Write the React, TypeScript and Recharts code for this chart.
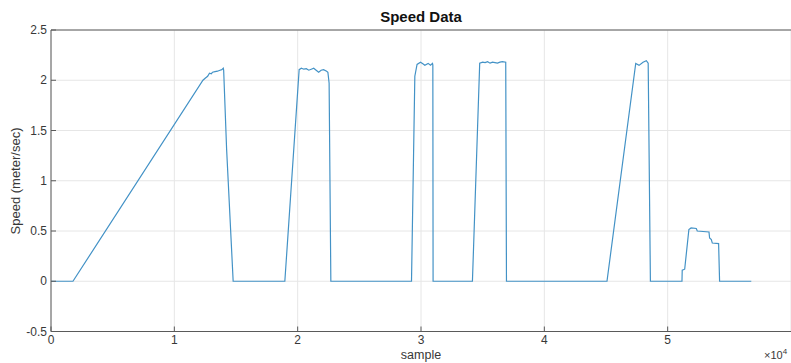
import React from "react";
import {
  LineChart,
  Line,
  XAxis,
  YAxis,
  CartesianGrid,
  ReferenceLine,
} from "recharts";

// sample index, in units of 10^4
const sampleX: number[] = [
  0, 0.178, 1.232, 1.25, 1.27, 1.285, 1.3, 1.31, 1.33, 1.35, 1.37, 1.385, 1.397, 1.4, 1.424, 1.477,
  1.896, 2.012, 2.03, 2.05, 2.07, 2.09, 2.11, 2.13, 2.15, 2.17, 2.19, 2.21, 2.235, 2.245, 2.255, 2.269,
  2.923, 2.95, 2.968, 2.996, 3.015, 3.031, 3.058, 3.077, 3.093, 3.096, 3.098,
  3.417, 3.476, 3.5, 3.52, 3.54, 3.56, 3.58, 3.6, 3.62, 3.64, 3.66, 3.687, 3.693,
  4.508, 4.741, 4.768, 4.8, 4.827, 4.842, 4.86,
  5.116, 5.118, 5.138, 5.172, 5.19, 5.232, 5.24, 5.335, 5.34, 5.354, 5.362, 5.413, 5.421, 5.678,
];

// speed in meter/sec
const speed: number[] = [
  0, 0, 2.0, 2.02, 2.04, 2.07, 2.065, 2.08, 2.085, 2.09, 2.1, 2.105, 2.12, 2.1, 1.31, 0,
  0, 2.105, 2.12, 2.11, 2.115, 2.1, 2.11, 2.12, 2.1, 2.08, 2.1, 2.105, 2.09, 2.08, 1.97, 0,
  0, 2.04, 2.158, 2.18, 2.165, 2.15, 2.168, 2.15, 2.168, 2.15, 0,
  0, 2.17, 2.18, 2.175, 2.185, 2.17, 2.18, 2.175, 2.17, 2.18, 2.185, 2.18, 0,
  0, 2.168, 2.148, 2.18, 2.195, 2.17, 0,
  0, 0.11, 0.12, 0.515, 0.53, 0.525, 0.5, 0.49, 0.43, 0.415, 0.38, 0.375, 0, 0,
];

const xTicks: number[] = [0, 1, 2, 3, 4, 5];
const yTicks: number[] = [-0.5, 0, 0.5, 1, 1.5, 2, 2.5];

const title = "Speed Data";
const xLabel = "sample";
const yLabel = "Speed (meter/sec)";

const data = sampleX.map((s, i) => ({ sample: s, speed: speed[i] }));

const FONT = "'Liberation Sans', Arial, Helvetica, sans-serif";
const AXIS = "#5a5a5a";
const TEXT = "#383838";

const YTick = (props: any) => {
  const { x, y, payload } = props;
  return (
    <g>
      <line x1={x} x2={x + 5} y1={y} y2={y} stroke={AXIS} strokeWidth={1} />
      <text x={x - 4} y={y} dy={4} textAnchor="end" fontSize={12} fill={TEXT} fontFamily={FONT}>
        {String(payload.value)}
      </text>
    </g>
  );
};

const XTick = (props: any) => {
  const { x, y, payload } = props;
  return (
    <g>
      <line x1={x} x2={x} y1={y} y2={y - 5} stroke={AXIS} strokeWidth={1} />
      <text x={x} y={y} dy={12} textAnchor="middle" fontSize={12} fill={TEXT} fontFamily={FONT}>
        {String(payload.value)}
      </text>
    </g>
  );
};

export default function App() {
  return (
    <div style={{ position: "absolute", left: 0, top: 0, width: 791, height: 363, background: "#fff", overflow: "hidden" }}>
      <LineChart
        width={791}
        height={363}
        data={data}
        margin={{ top: 30, right: 0, bottom: 0, left: 0 }}
      >
        <CartesianGrid stroke="#e6e6e6" strokeWidth={1} />
        <XAxis
          dataKey="sample"
          type="number"
          domain={[0, 6]}
          ticks={xTicks}
          height={31.5}
          tickSize={0}
          tickMargin={0}
          tick={<XTick />}
          axisLine={{ stroke: AXIS }}
          tickLine={false}
          allowDataOverflow
          interval={0}
        />
        <YAxis
          type="number"
          domain={[-0.5, 2.5]}
          ticks={yTicks}
          width={51}
          tickSize={0}
          tickMargin={0}
          tick={<YTick />}
          axisLine={{ stroke: AXIS }}
          tickLine={false}
          allowDataOverflow
          interval={0}
        />
        <ReferenceLine y={2.5} stroke={AXIS} strokeWidth={1} ifOverflow="visible" />
        <Line
          type="linear"
          dataKey="speed"
          stroke="#4392c6"
          strokeWidth={1.2}
          dot={false}
          isAnimationActive={false}
        />
      </LineChart>
      <svg width={791} height={363} style={{ position: "absolute", left: 0, top: 0, pointerEvents: "none" }}>
        <text x={421} y={22} textAnchor="middle" fontSize={15} fontWeight="bold" fill="#111" fontFamily={FONT}>
          {title}
        </text>
        <text x={421} y={359} textAnchor="middle" fontSize={12.5} fill={TEXT} fontFamily={FONT}>
          {xLabel}
        </text>
        <text
          x={0}
          y={0}
          transform="translate(20,181) rotate(-90)"
          textAnchor="middle"
          fontSize={13}
          fill={TEXT}
          fontFamily={FONT}
        >
          {yLabel}
        </text>
        <text x={764} y={359} fontSize={11} fill={TEXT} fontFamily={FONT}>
          ×10<tspan dy={-5} fontSize={8}>4</tspan>
        </text>
      </svg>
    </div>
  );
}
